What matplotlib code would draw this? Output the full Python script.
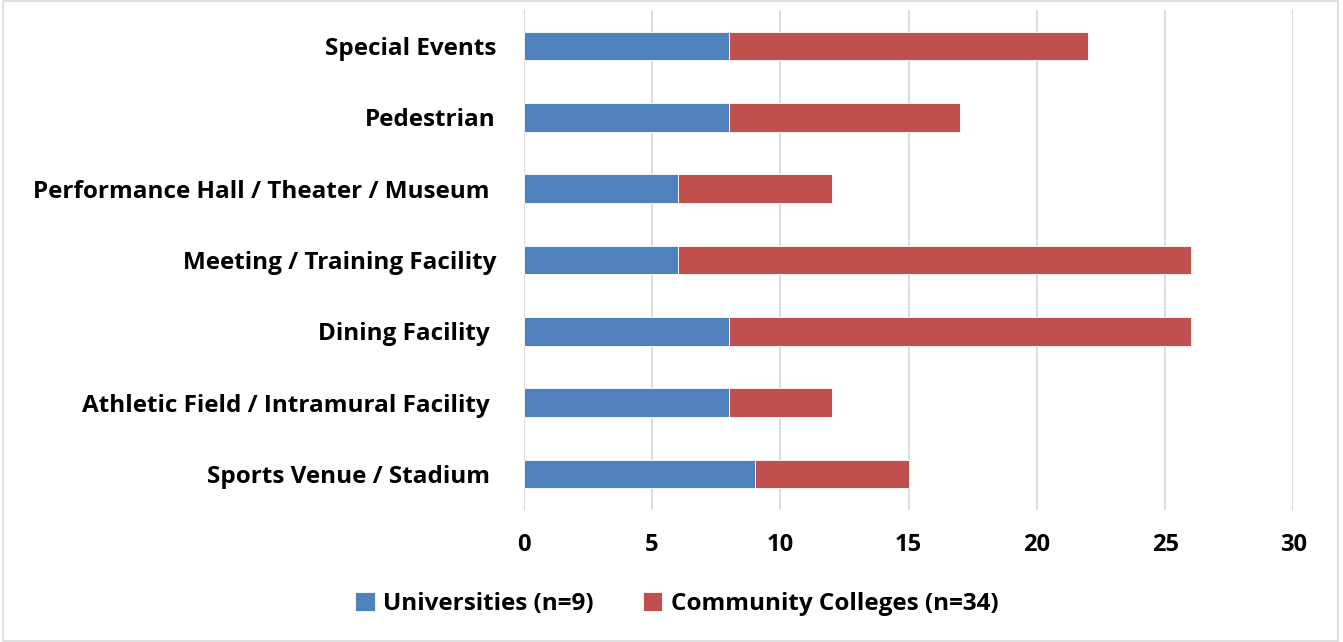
import matplotlib
matplotlib.use("Agg")
import matplotlib.pyplot as plt
from matplotlib.patches import Rectangle

categories = [
    "Sports Venue / Stadium ",
    "Athletic Field / Intramural Facility ",
    "Dining Facility ",
    "Meeting / Training Facility",
    "Performance Hall / Theater / Museum ",
    "Pedestrian",
    "Special Events",
]
universities = [9, 8, 8, 6, 6, 8, 8]
community_colleges = [6, 4, 18, 20, 6, 9, 14]
series_labels = ["Universities (n=9)", "Community Colleges (n=34)"]
x_ticks = [0, 5, 10, 15, 20, 25, 30]

blue = "#4f81bd"
red = "#c0504d"

plt.rcParams["font.family"] = ["Open Sans", "DejaVu Sans"]
plt.rcParams["font.weight"] = "bold"

fig = plt.figure(figsize=(13.43, 6.42), dpi=100)
ax = fig.add_axes([0.390, 0.206, 0.573, 0.778])

y = range(len(categories))
ax.barh(y, universities, height=0.4, color=blue, edgecolor="white",
        linewidth=0.6, label=series_labels[0], zorder=3)
ax.barh(y, community_colleges, left=universities, height=0.4, color=red,
        edgecolor="white", linewidth=0.6, label=series_labels[1], zorder=3)

ax.set_xlim(0, 30)
ax.set_ylim(-0.5, len(categories) - 0.5)
ax.set_xticks(x_ticks)
ax.set_xticklabels([str(t) for t in x_ticks], fontsize=17, fontweight="bold")
ax.set_yticks(list(y))
ax.set_yticklabels(categories, fontsize=17.5, fontweight="bold")
ax.tick_params(axis="x", length=0, pad=17)
ax.tick_params(axis="y", length=0, pad=20)
ax.grid(axis="x", color="#d9d9d9", linewidth=1.3, zorder=0)
for s in ax.spines.values():
    s.set_visible(False)

ax.legend(loc="center", bbox_to_anchor=(0.504, 0.059), bbox_transform=fig.transFigure,
          ncol=2, frameon=False, prop={"weight": "bold", "size": 17.5},
          handlelength=0.8, handleheight=0.8, handletextpad=0.35, columnspacing=2.0)

fig.patches.append(Rectangle((0.002, 0.002), 0.994, 0.996, transform=fig.transFigure,
                             fill=False, edgecolor="#d9d9d9", linewidth=1.2))

fig.savefig("out.png", dpi=100, facecolor="white")
